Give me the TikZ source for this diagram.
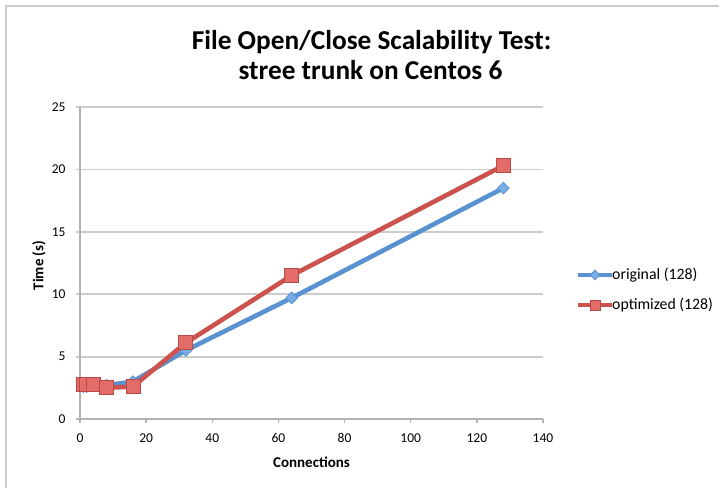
\documentclass[tikz,border=0pt]{standalone}
\usepackage{fontspec}
\setmainfont{Carlito}
\usetikzlibrary{shapes.geometric}
\definecolor{serblue}{RGB}{88,146,208}
\definecolor{serbluefill}{RGB}{120,172,228}
\definecolor{serred}{RGB}{204,82,78}
\definecolor{serredfill}{RGB}{228,108,104}
\definecolor{gridgray}{RGB}{204,204,204}
\definecolor{axisgray}{RGB}{178,178,178}
\definecolor{framegray}{RGB}{205,205,205}
\tikzset{
  gridline/.style={gridgray, line width=1.8pt},
  axisline/.style={axisgray, line width=1.4pt},
  blueline/.style={serblue, line width=4.6pt, line join=round, line cap=round},
  redline/.style={serred, line width=4.6pt, line join=round, line cap=round},
  bluemark/.style={diamond, draw=serblue, fill=serbluefill, line width=0.8pt, inner sep=0pt, minimum width=12pt, minimum height=12pt},
  redmark/.style={rectangle, draw=serred!90!black, fill=serredfill, line width=0.8pt, inner sep=0pt, minimum size=14pt},
  ticklabel/.style={font=\fontsize{13.5}{15}\selectfont, text=black},
  axtitle/.style={font=\fontsize{15}{17}\selectfont\bfseries, text=black},
  legtext/.style={font=\fontsize{15.8}{17}\selectfont, text=black, anchor=west, inner sep=0pt},
  titletext/.style={font=\fontsize{27.3}{30}\selectfont\bfseries, text=black, anchor=base, inner sep=0pt},
}
\begin{document}
\begin{tikzpicture}[x=1pt,y=-1pt]
\useasboundingbox (0,0) rectangle (719,488);
\fill[white] (0,0) rectangle (719,488);
% frame
\draw[framegray, line width=2.2pt] (6,488) -- (6,6) -- (719,6);
% title
\node[titletext] (title1) at (371.5,49) {File Open/Close Scalability Test:};
\node[titletext] (title2) at (370.5,79) {stree trunk on Centos 6};
\begin{scope}[shift={(80pt,-419pt)}, x=3.307pt, y=12.48pt]
  % grid
  \foreach \v in {5,10,15,20,25} {
    \draw[gridline] (-1.2,\v) -- (140,\v);
  }
  % axes
  \draw[axisline] (0,25) -- (0,-0.32);
  \draw[axisline] (-1.2,0) -- (140,0);
  \foreach \t in {0,20,...,140} {
    \draw[axisline] (\t,0) -- (\t,-0.32);
    \node[ticklabel] (xl\t) at (\t,-1.5) {\t};
  }
  \foreach \v in {0,5,...,25} {
    \node[ticklabel, anchor=east] (yl\v) at (-3.3,\v) {\v};
  }
  \node[axtitle] (xtitle) at (70,-3.45) {Connections};
  \node[axtitle, rotate=90] (ytitle) at (-12.4,12.3) {Time (s)};
  % original series
  \coordinate (b1) at (1,2.6);
  \coordinate (b2) at (2,2.6);
  \coordinate (b4) at (4,2.7);
  \coordinate (b8) at (8,2.7);
  \coordinate (b16) at (16,3.0);
  \coordinate (b32) at (32,5.5);
  \coordinate (b64) at (64,9.7);
  \coordinate (b128) at (128,18.5);
  \draw[blueline] (b1) -- (b2) -- (b4) -- (b8) -- (b16) -- (b32) -- (b64) -- (b128);
  \foreach \n in {1,2,4,8,16,32,64,128} {
    \node[bluemark] (bm\n) at (b\n) {};
  }
  % optimized series
  \coordinate (r1) at (1,2.75);
  \coordinate (r2) at (2,2.75);
  \coordinate (r4) at (4,2.75);
  \coordinate (r8) at (8,2.5);
  \coordinate (r16) at (16,2.6);
  \coordinate (r32) at (32,6.1);
  \coordinate (r64) at (64,11.5);
  \coordinate (r128) at (128,20.3);
  \draw[redline] (r1) -- (r2) -- (r4) -- (r8) -- (r16) -- (r32) -- (r64) -- (r128);
  \foreach \n in {1,2,4,8,16,32,64,128} {
    \node[redmark] (rm\n) at (r\n) {};
  }
\end{scope}
% legend
\coordinate (lba) at (578,275);
\coordinate (lbb) at (612,275);
\coordinate (lra) at (578,305);
\coordinate (lrb) at (612,305);
\draw[blueline, line cap=butt] (lba) -- (lbb);
\node[bluemark, minimum width=10pt, minimum height=10pt] (lbm) at (595,275) {};
\node[legtext] (lbt) at (612,275) {original (128)};
\draw[redline, line cap=butt] (lra) -- (lrb);
\node[redmark, minimum size=10pt] (lrm) at (595,305) {};
\node[legtext] (lrt) at (612,305) {optimized (128)};
\end{tikzpicture}
\end{document}
